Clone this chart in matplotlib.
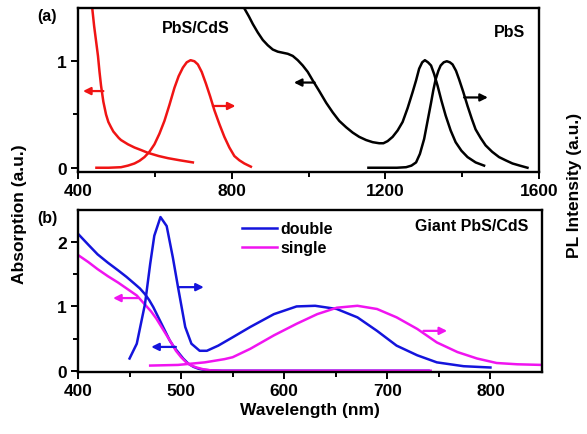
import matplotlib
matplotlib.use('Agg')
import matplotlib.pyplot as plt

plt.rcParams['font.family'] = ['Liberation Sans', 'DejaVu Sans']
plt.rcParams['font.weight'] = 'bold'

############################################################################
# data
# panel (a): PbS/CdS (red) and PbS (black)
redAbsX = [437, 442, 447, 452, 456, 460, 466, 473, 479, 486, 492, 499, 506,
           512, 521, 530, 547, 565, 582, 610, 634, 665, 699]
redAbsY = [1.5, 1.33, 1.19, 1.05, 0.9, 0.77, 0.62, 0.5, 0.43, 0.38, 0.34,
           0.31, 0.28, 0.26, 0.24, 0.22, 0.19, 0.165, 0.14, 0.11, 0.09, 0.07,
           0.05]
redPlX = [448, 480, 512, 530, 547, 560, 573, 586, 599, 612, 625, 638, 651,
          662, 673, 683, 693, 703, 712, 722, 733, 744, 755, 768, 781, 794,
          807, 820, 833, 850]
redPlY = [0.0, 0.0, 0.005, 0.02, 0.04, 0.065, 0.1, 0.15, 0.22, 0.32, 0.44,
          0.59, 0.75, 0.86, 0.94, 0.99, 1.01, 1.0, 0.97, 0.9, 0.79, 0.67,
          0.54, 0.41, 0.29, 0.19, 0.11, 0.07, 0.04, 0.01]
blkAbsX = [834, 845, 855, 868, 881, 894, 907, 920, 933, 946, 959, 972, 985,
           998, 1011, 1028, 1046, 1063, 1080, 1098, 1115, 1132, 1150, 1167,
           1184, 1195, 1206, 1219, 1232, 1245, 1258, 1271, 1280, 1288, 1296,
           1303, 1311, 1319, 1327, 1336, 1346, 1357, 1370, 1383, 1398, 1414,
           1435, 1457]
blkAbsY = [1.49, 1.42, 1.35, 1.27, 1.2, 1.15, 1.11, 1.09, 1.08, 1.07, 1.05,
           1.01, 0.96, 0.9, 0.82, 0.72, 0.61, 0.52, 0.44, 0.38, 0.33, 0.29,
           0.26, 0.24, 0.23, 0.23, 0.25, 0.29, 0.35, 0.43, 0.56, 0.71, 0.82,
           0.93, 0.99, 1.01, 0.99, 0.96, 0.88, 0.77, 0.63, 0.49, 0.35, 0.24,
           0.16, 0.1, 0.05, 0.02]
blkPlX = [1156, 1200, 1230, 1254, 1268, 1280, 1290, 1301, 1310, 1319, 1325,
          1331, 1338, 1344, 1352, 1360, 1368, 1375, 1384, 1392, 1403, 1414,
          1425, 1435, 1448, 1461, 1478, 1496, 1513, 1531, 1550, 1570]
blkPlY = [0.0, 0.0, 0.0, 0.005, 0.02, 0.05, 0.13, 0.27, 0.44, 0.61, 0.73,
          0.83, 0.91, 0.96, 0.99, 1.0, 0.99, 0.97, 0.91, 0.83, 0.71, 0.58,
          0.46, 0.36, 0.28, 0.21, 0.15, 0.1, 0.07, 0.04, 0.02, 0.0]

# panel (b): giant PbS/CdS, double (blue) and single (magenta)
dblAbsX = [400, 410, 419, 429, 439, 447, 455, 460, 465, 469, 473, 477, 481,
           485, 489, 493, 497, 502, 507, 512, 517, 522, 529, 540, 600, 700,
           740]
dblAbsY = [2.13, 1.96, 1.81, 1.68, 1.56, 1.46, 1.35, 1.28, 1.19, 1.1, 0.99,
           0.86, 0.73, 0.6, 0.47, 0.37, 0.29, 0.19, 0.11, 0.06, 0.03, 0.015,
           0.005, 0.0, 0.0, 0.0, 0.0]
dblPlX = [450, 457, 465, 470, 474, 480, 486, 492, 497, 504, 510, 518, 525,
          536, 550, 567, 590, 612, 630, 651, 671, 690, 709, 729, 748, 774,
          800]
dblPlY = [0.19, 0.42, 1.04, 1.66, 2.1, 2.39, 2.25, 1.76, 1.3, 0.68, 0.42,
          0.31, 0.31, 0.39, 0.52, 0.68, 0.88, 1.0, 1.01, 0.96, 0.83, 0.62,
          0.39, 0.24, 0.13, 0.07, 0.05]
sglAbsX = [400, 410, 419, 429, 439, 448, 457, 466, 471, 476, 481, 486, 491,
           495, 500, 505, 510, 515, 522, 529, 540, 600, 700, 742]
sglAbsY = [1.8, 1.69, 1.58, 1.47, 1.37, 1.27, 1.17, 1.01, 0.92, 0.81, 0.68,
           0.55, 0.42, 0.31, 0.21, 0.13, 0.08, 0.05, 0.02, 0.005, 0.0, 0.0,
           0.0, 0.0]
sglPlX = [470, 497, 523, 542, 550, 567, 590, 612, 632, 651, 671, 690, 709,
          729, 748, 768, 787, 806, 826, 850]
sglPlY = [0.08, 0.09, 0.13, 0.18, 0.21, 0.34, 0.55, 0.73, 0.88, 0.98, 1.01,
          0.96, 0.83, 0.65, 0.44, 0.29, 0.19, 0.12, 0.1, 0.09]

red = '#f01414'
blue = '#1414dc'
magenta = '#f014f0'

############################################################################
# common axes styling
def styleAx(ax):
    for s in ax.spines.values():
        s.set_linewidth(1.7)
    ax.tick_params(which='both', direction='out', width=1.4,
                   labelsize=12.5, top=False, right=False, pad=3)
    ax.tick_params(which='major', length=5)
    ax.tick_params(which='minor', length=3.5)
    for lab in ax.get_xticklabels() + ax.get_yticklabels():
        lab.set_fontweight('bold')

def arrow(ax, head, tail, color):
    ax.annotate('', xy=head, xytext=tail,
                arrowprops=dict(arrowstyle='-|>', color=color, lw=1.6,
                                mutation_scale=11, shrinkA=0, shrinkB=0))

fig = plt.figure(figsize=(5.87, 4.35), dpi=100)
axA = fig.add_axes((78/587, 1-173/435, 461/587, 164/435))
axB = fig.add_axes((78/587, 1-373/435, 464/587, 162/435))

lw = 1.8
# panel (a)
axA.plot(redAbsX, redAbsY, color=red, lw=lw)
axA.plot(redPlX, redPlY, color=red, lw=lw)
axA.plot(blkAbsX, blkAbsY, color='k', lw=lw)
axA.plot(blkPlX, blkPlY, color='k', lw=lw)
axA.set_xlim(400, 1600)
axA.set_ylim(-0.04, 1.5)
axA.set_xticks([400, 800, 1200, 1600])
axA.set_xticks([600, 1000, 1400], minor=True)
axA.set_yticks([0, 1])
axA.set_yticks([0.5], minor=True)
styleAx(axA)
arrow(axA, (413, 0.72), (466, 0.72), red)
arrow(axA, (810, 0.58), (751, 0.58), red)
arrow(axA, (962, 0.80), (1016, 0.80), 'k')
arrow(axA, (1467, 0.66), (1405, 0.66), 'k')
axA.text(706, 1.32, 'PbS/CdS', ha='center', va='center', fontsize=11.5,
         fontweight='bold')
axA.text(1522, 1.28, 'PbS', ha='center', va='center', fontsize=11.5,
         fontweight='bold')

# panel (b)
axB.plot(dblAbsX, dblAbsY, color=blue, lw=lw)
axB.plot(sglAbsX, sglAbsY, color=magenta, lw=lw)
lD, = axB.plot(dblPlX, dblPlY, color=blue, lw=lw)
lS, = axB.plot(sglPlX, sglPlY, color=magenta, lw=lw)
axB.set_xlim(400, 850)
axB.set_ylim(-0.02, 2.5)
axB.set_xticks([400, 500, 600, 700, 800])
axB.set_xticks([450, 550, 650, 750], minor=True)
axB.set_yticks([0, 1, 2])
axB.set_yticks([0.5, 1.5], minor=True)
styleAx(axB)
arrow(axB, (434, 1.13), (458, 1.13), magenta)
arrow(axB, (471, 0.37), (495, 0.37), blue)
arrow(axB, (522, 1.30), (497, 1.30), blue)
arrow(axB, (758, 0.62), (735, 0.62), magenta)
axB.legend([lD, lS], ['double', 'single'], loc='upper left',
           bbox_to_anchor=(0.33, 1.0), frameon=False,
           handlelength=2.2, handletextpad=0.2, labelspacing=0.25,
           borderaxespad=0.3, prop={'weight': 'bold', 'size': 11.5})
axB.text(0.97, 0.95, 'Giant PbS/CdS', transform=axB.transAxes, ha='right',
         va='top', fontsize=11.5, fontweight='bold')
axB.set_xlabel('Wavelength (nm)', fontsize=12.5, fontweight='bold',
               labelpad=3)

fig.text(47/587, 1-17/435, '(a)', ha='center', va='center', fontsize=11.5,
         fontweight='bold')
fig.text(47/587, 1-219/435, '(b)', ha='center', va='center', fontsize=11.5,
         fontweight='bold')
fig.text(20/587, 1-214/435, 'Absorption (a.u.)', rotation=90, ha='center',
         va='center', fontsize=12.5, fontweight='bold')
fig.text(575/587, 1-185/435, 'PL Intensity (a.u.)', rotation=90,
         ha='center', va='center', fontsize=12.5, fontweight='bold')

fig.savefig('out.png', dpi=100)
